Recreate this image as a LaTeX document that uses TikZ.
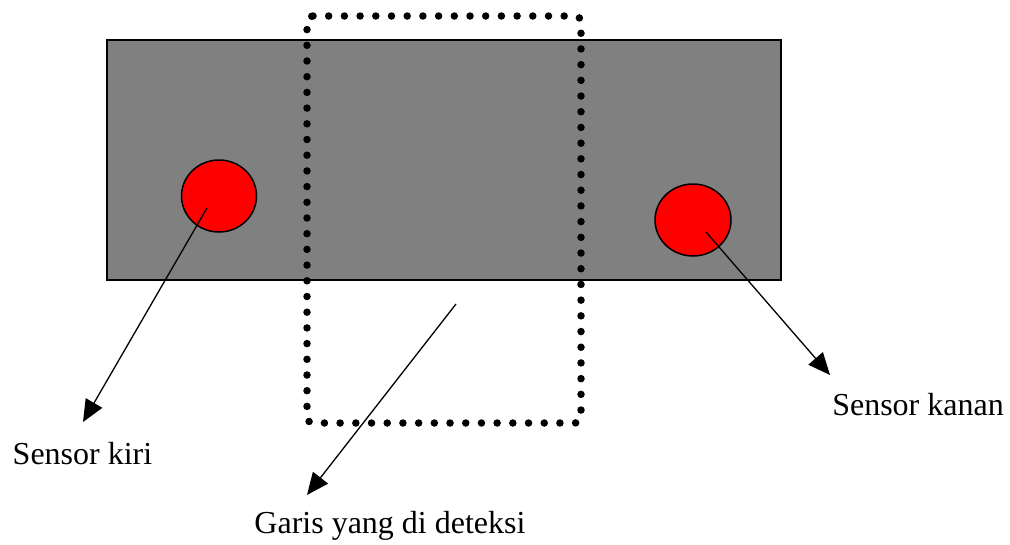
\documentclass[tikz,border=0pt]{standalone}
\usepackage{fontspec}
\setmainfont{Liberation Serif}
\usetikzlibrary{arrows.meta}
\definecolor{boardgray}{RGB}{128,128,128}
\tikzset{
  board/.style={draw=black, line width=1.5pt, fill=boardgray},
  sensor/.style={draw=black, line width=1.5pt, fill=red},
  pointer/.style={line width=1.3pt, -{Triangle[length=22pt,width=19pt]}},
  dotline/.style={line width=7.5pt, line cap=round, dash pattern=on 0pt off 15.7pt, rounded corners=6pt},
  label/.style={font=\fontsize{32}{38}\selectfont, inner sep=0pt, anchor=base}
}
\begin{document}
\begin{tikzpicture}[x=1pt,y=-1pt]
  \useasboundingbox (0,0) rectangle (1010,544);
  % sensor board
  \draw[board] (107,40) rectangle (781,280);
  % the two sensors
  \draw[sensor] (219,196) ellipse [x radius=37.5, y radius=36];
  \draw[sensor] (693,220) ellipse [x radius=38, y radius=36];
  % line to be detected
  \draw[dotline] (307,16) -- (581,16) -- (581,423) -- (307,423) -- cycle;
  % labels
  \node[label] (kiri) at (82.5,464) {Sensor kiri};
  \node[label] (kanan) at (918,415) {Sensor kanan};
  \node[label] (garis) at (390,533) {Garis yang di deteksi};
  % pointer ends
  \coordinate (ls) at (207,208);
  \coordinate (lt) at (83,422);
  \coordinate (rs) at (706,232);
  \coordinate (rt) at (830,375);
  \coordinate (ms) at (456,304);
  \coordinate (mt) at (307,495);
  \draw[pointer] (ls) -- (lt);
  \draw[pointer] (rs) -- (rt);
  \draw[pointer] (ms) -- (mt);
\end{tikzpicture}
\end{document}
